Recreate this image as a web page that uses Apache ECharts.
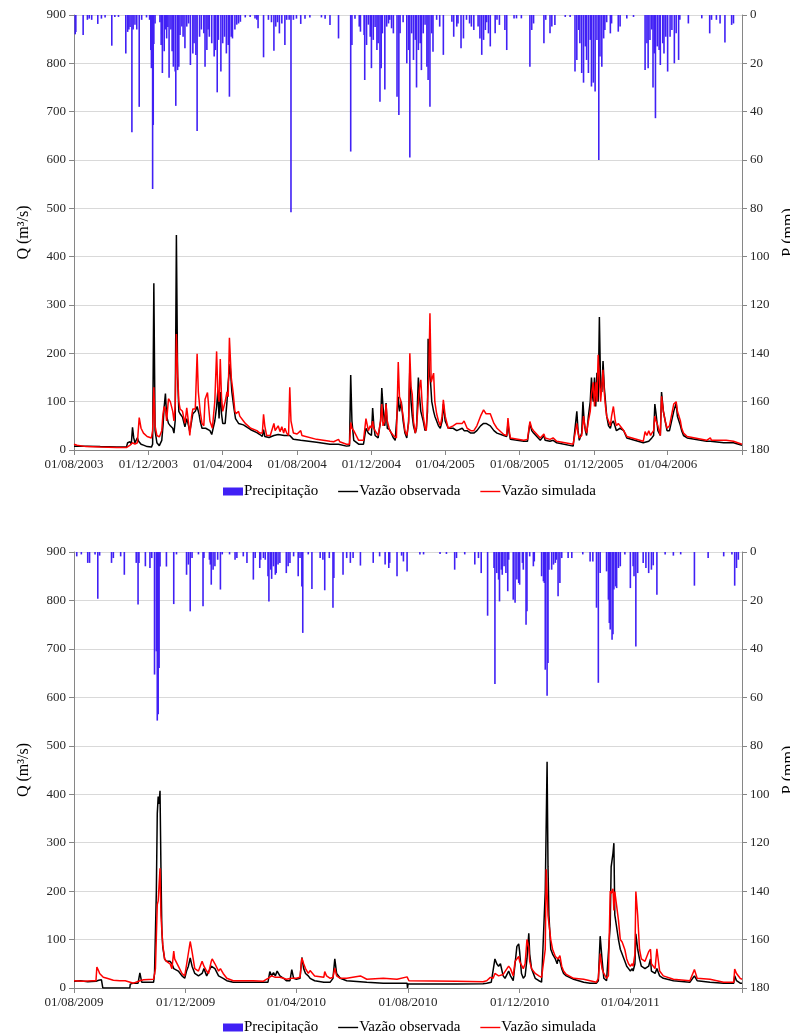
<!DOCTYPE html>
<html><head><meta charset="utf-8">
<script src="https://cdn.jsdelivr.net/npm/echarts@6/dist/echarts.min.js"></script>
<style>html,body{margin:0;padding:0;background:#fff}#c{width:790px;height:1033px}</style>
</head><body><div id="c"></div>
<script>
// ---------- tick labels ----------
const tickLabels1 = ['01/08/2003','01/12/2003','01/04/2004','01/08/2004','01/12/2004','01/04/2005','01/08/2005','01/12/2005','01/04/2006'];
const axisEnd1 = '01/08/2006';
const tickLabels2 = ['01/08/2009','01/12/2009','01/04/2010','01/08/2010','01/12/2010','01/04/2011'];
const axisEnd2 = '01/08/2011';

// ---------- panel 1 (days since 01/08/2003, value) ----------
const rain1 = [[2,8],[3,7],[15,8.3],[22,2],[25,1.5],[29,2],[39,3.7],[45,1.5],[51,1],[62,12.7],[67,0.8],[73,0.8],[85,15.9],[88,7],[90,6],[92,5],[95,48.5],[97,6],[100,4],[103,6],[107,38],[111,2],[119,1],[124,2],[126,14.5],[127,22],[129,72],[130,45.5],[131,12],[133,3.5],[141,3],[143,12.4],[144,8],[145,24],[148,15],[150,6],[152,9.7],[154,5],[156,26],[159,6],[161,15],[163,21.4],[166,23.4],[167,37.6],[170,22.8],[172,21.4],[174,8.3],[177,4.8],[179,9],[182,13.8],[185,4.8],[188,3.5],[191,20.7],[195,15.9],[197,11.7],[200,16.5],[202,48],[206,9],[209,6],[213,7.6],[215,21.4],[218,14.5],[220,6],[222,9],[226,11.7],[230,17.2],[232,14.5],[235,32],[237,10.3],[241,23.4],[244,11.7],[247,9],[250,15.9],[253,12.4],[255,33.8],[258,9],[260,9.7],[264,6],[267,4],[270,3.5],[273,2.8],[281,1],[289,0.8],[297,1.4],[300,2],[302,5.5],[311,17.5],[319,2],[324,3],[328,14.8],[331,4.8],[334,3],[337,7.6],[341,3.5],[346,12.4],[349,2],[353,2],[356,81.6],[360,2],[365,1.5],[372,3.7],[379,1.5],[387,1],[406,1],[412,1.5],[420,4.1],[434,9.7],[454,56.5],[456,12.4],[461,1.5],[468,4.8],[470,6.9],[476,8.3],[477,26.9],[480,12.4],[483,4],[486,9],[488,22],[491,10.3],[494,5],[497,14.5],[499,11.7],[502,35.9],[504,22],[506,7.6],[510,30.8],[513,4.8],[516,3.5],[518,2],[521,5.5],[524,7.6],[530,33.8],[533,41.4],[535,7.6],[540,3],[546,20],[549,14.5],[551,59],[554,7.6],[557,18.6],[560,10.3],[562,30],[565,14.5],[568,11.7],[570,22.8],[573,7.6],[576,4],[579,21.4],[581,26.9],[584,38],[587,7.6],[589,15.2],[595,2],[600,4.8],[606,16.5],[620,2.8],[623,9],[628,4.8],[630,3.5],[635,13.8],[639,9.7],[644,2],[649,3.5],[652,4.8],[656,6.2],[663,4.8],[666,9.7],[669,16.5],[672,10.3],[675,6.2],[677,3],[680,7.6],[683,13],[691,7.6],[694,2],[698,4.1],[707,6.2],[710,14.5],[722,1.4],[726,1.4],[734,1.4],[748,21.4],[751,6.2],[754,3.5],[771,11.7],[774,2],[781,7.6],[784,4.8],[789,4.1],[806,0.8],[814,0.8],[822,23.4],[825,18.6],[828,6.2],[830,11.7],[833,24],[836,28],[839,13],[841,18.6],[844,24],[847,10.3],[849,29.6],[852,28],[855,31.7],[858,10.3],[861,60],[863,17.2],[866,21.4],[869,9.7],[871,6.2],[874,3],[880,7.6],[882,3.5],[893,6.9],[896,4.8],[907,1.4],[918,0.8],[937,22.8],[940,11.7],[942,22],[945,10.3],[948,6],[950,30],[952,15.9],[954,42.7],[957,13],[960,14.5],[962,20.7],[966,11.7],[968,15.9],[971,9],[974,23.4],[978,9],[981,6.2],[985,20],[988,7.6],[992,18.6],[994,2],[1008,3.5],[1030,1.4],[1043,7.6],[1046,2],[1054,2],[1060,3.5],[1068,11.4],[1079,4.1],[1082,3.5]];

const obs1 = [[0,8],[20,8],[43,7],[70,6],[86,6],[88,15],[92,17],[94,12],[96,47],[98,25],[100,15],[104,25],[106,18],[110,12],[114,10],[120,7],[127,6],[129,12],[131,345],[133,40],[136,15],[140,9],[144,20],[146,50],[148,90],[150,117],[152,70],[155,55],[158,50],[162,45],[164,35],[166,60],[168,445],[170,150],[172,80],[174,75],[178,68],[182,48],[185,65],[188,50],[190,38],[193,60],[195,75],[199,80],[202,90],[205,75],[207,60],[210,45],[213,45],[216,45],[219,48],[223,40],[226,32],[228,35],[231,60],[234,90],[236,123],[238,65],[240,120],[242,75],[244,55],[248,55],[251,100],[253,140],[256,178],[259,120],[262,90],[265,65],[270,55],[273,55],[278,52],[281,48],[290,42],[300,36],[305,32],[309,28],[311,42],[313,28],[320,26],[328,30],[335,32],[345,30],[354,30],[360,22],[372,20],[398,16],[420,12],[434,12],[447,8],[452,9],[454,155],[456,60],[459,20],[467,12],[475,12],[479,45],[483,35],[488,30],[490,87],[492,50],[494,30],[499,25],[503,60],[505,128],[507,90],[510,50],[512,97],[514,45],[518,42],[524,25],[527,20],[532,110],[534,80],[537,100],[540,60],[543,35],[546,25],[549,60],[551,170],[553,100],[555,70],[557,50],[560,35],[562,45],[565,150],[567,110],[569,80],[571,80],[573,60],[576,40],[578,45],[580,80],[581,230],[583,160],[585,140],[587,100],[590,80],[592,70],[595,60],[598,50],[601,45],[604,60],[606,95],[609,60],[614,45],[622,45],[628,40],[637,45],[640,40],[645,40],[651,35],[656,35],[661,40],[667,50],[672,55],[676,55],[683,50],[689,40],[694,35],[705,30],[710,28],[712,55],[714,35],[716,22],[738,18],[744,18],[748,55],[751,40],[754,35],[765,20],[771,30],[773,20],[781,18],[786,20],[792,15],[819,8],[822,10],[825,80],[827,40],[829,20],[833,35],[835,100],[837,60],[839,40],[841,30],[844,70],[847,100],[849,150],[851,110],[852,100],[854,150],[856,90],[858,160],[860,100],[862,275],[864,130],[866,120],[868,184],[870,130],[872,100],[874,70],[877,50],[880,45],[882,55],[885,60],[890,40],[896,45],[902,40],[907,25],[934,15],[937,18],[943,18],[948,25],[951,30],[953,95],[955,75],[958,40],[962,30],[964,120],[967,80],[970,60],[973,40],[977,40],[984,80],[988,97],[990,70],[995,50],[997,40],[1000,30],[1006,25],[1038,18],[1044,18],[1066,15],[1082,15],[1096,10]];

const sim1 = [[0,12],[5,10],[20,7],[43,6],[70,5],[86,5],[92,10],[96,15],[100,12],[104,15],[107,67],[110,45],[114,35],[120,28],[127,25],[129,40],[131,130],[133,50],[136,30],[140,27],[144,40],[146,75],[148,90],[150,85],[152,60],[155,106],[158,100],[162,80],[164,60],[166,90],[168,240],[170,160],[172,100],[174,85],[178,80],[182,55],[185,87],[188,55],[190,30],[193,70],[195,85],[199,85],[202,199],[204,120],[207,80],[210,55],[213,50],[215,105],[219,119],[223,60],[227,45],[231,100],[234,204],[236,120],[238,100],[240,188],[242,110],[244,80],[248,100],[251,120],[253,110],[255,232],[258,150],[261,120],[264,80],[266,75],[270,80],[272,70],[278,60],[281,55],[290,45],[300,40],[305,35],[309,35],[311,74],[313,50],[316,30],[322,30],[328,55],[330,40],[333,40],[335,50],[338,38],[341,48],[344,35],[346,45],[349,35],[352,30],[354,130],[356,60],[360,35],[366,33],[372,40],[374,30],[398,22],[420,18],[422,20],[426,17],[434,22],[436,17],[447,12],[452,12],[454,57],[456,45],[459,40],[467,20],[475,20],[479,65],[483,40],[486,50],[488,45],[490,60],[492,45],[494,40],[499,30],[503,60],[505,95],[507,50],[510,60],[512,95],[514,60],[518,40],[524,30],[529,25],[532,182],[534,110],[536,103],[540,70],[543,40],[546,30],[549,55],[551,200],[553,130],[555,115],[557,60],[560,35],[562,50],[565,100],[567,130],[569,145],[571,100],[573,70],[576,45],[578,40],[580,100],[582,150],[584,283],[586,140],[588,150],[590,159],[592,100],[595,75],[598,60],[601,50],[604,70],[606,104],[609,70],[614,45],[622,50],[628,55],[637,55],[640,60],[645,45],[651,40],[656,40],[661,50],[667,70],[672,83],[676,75],[683,75],[689,55],[694,45],[705,32],[710,30],[712,66],[714,40],[716,25],[738,20],[744,22],[748,59],[751,45],[754,40],[765,25],[771,33],[773,25],[781,22],[786,25],[792,18],[819,12],[822,15],[825,55],[827,35],[829,25],[833,30],[836,70],[838,50],[841,35],[844,60],[847,80],[849,115],[852,140],[854,90],[856,140],[858,100],[860,197],[862,150],[864,100],[866,130],[868,166],[870,120],[872,90],[874,70],[877,60],[880,50],[882,70],[885,90],[888,60],[890,50],[893,55],[896,59],[899,45],[902,40],[907,28],[934,18],[937,38],[940,30],[943,40],[946,30],[948,35],[951,40],[953,70],[955,60],[958,50],[962,30],[964,111],[967,80],[970,60],[973,45],[977,50],[984,95],[988,100],[990,80],[995,60],[997,45],[1000,35],[1006,28],[1038,20],[1044,25],[1046,20],[1066,20],[1068,22],[1070,20],[1082,18],[1096,12]];

// ---------- panel 2 (days since 01/08/2009, value) ----------
const rain2 = [[3,1.8],[8,1],[15,4.5],[17,4.5],[23,1],[26,19.3],[28,1.5],[41,4.5],[43,2.5],[51,1.8],[55,9.4],[68,4.5],[70,21.7],[71,4.5],[78,5.9],[83,6.6],[85,2.5],[88,50.6],[90,41],[91,69.6],[92,67],[93,47.9],[94,6],[101,6],[109,21.5],[112,1],[123,9.4],[125,5.2],[127,24.5],[129,2.5],[136,1],[141,22.4],[142,2.5],[148,3.2],[149,5.2],[150,13.5],[152,7.3],[154,5.9],[157,3.2],[160,15.5],[162,1],[170,1],[176,3.2],[178,2.5],[185,1.8],[189,4.5],[196,11.4],[198,2.5],[203,6.6],[204,3.2],[207,2.5],[209,3.2],[212,10],[213,20.4],[215,7.3],[216,11.1],[218,5.9],[220,9.4],[221,8.7],[223,5.2],[225,4.5],[232,8.7],[234,5.9],[236,4.5],[240,1.8],[245,10],[247,2.5],[249,14.2],[250,33.4],[256,1],[260,15.3],[269,2.5],[272,3.2],[274,15.8],[279,2.5],[283,23],[284,10.7],[294,9.4],[298,2.5],[302,4.5],[305,2.5],[313,5.6],[327,4.5],[334,1.8],[340,5.2],[344,6.6],[345,4.5],[353,10],[358,1.5],[360,3.9],[364,8],[378,1],[382,1],[400,0.8],[407,0.8],[416,7.3],[418,2.5],[427,1],[438,5.2],[442,2.5],[445,8.7],[452,26.3],[459,6.6],[460,54.5],[462,8.7],[464,11.4],[465,20.4],[467,7.3],[468,9.4],[470,5.9],[472,8.7],[474,16.2],[475,3.2],[480,19.7],[482,21],[484,11.4],[486,12.8],[487,13.5],[490,4.5],[491,7.3],[494,30],[495,24.5],[498,1.8],[502,5.9],[503,3.9],[511,10],[513,12.1],[514,12.8],[515,48.6],[517,59.3],[518,45.8],[519,7.3],[522,7.3],[524,5.2],[526,4.5],[527,3.2],[529,18.3],[531,12.8],[533,2.5],[540,2.5],[544,2.5],[556,1],[564,3.9],[567,3.9],[571,23],[573,54],[575,8.7],[582,8],[584,19.7],[585,29.3],[586,32],[588,36.2],[589,34],[590,15.5],[592,14.2],[593,14.9],[595,6.6],[597,5.9],[602,1],[608,14.9],[611,5.9],[612,10],[614,39],[616,8.7],[622,4.5],[625,6.6],[628,8.7],[631,7.3],[633,5.5],[637,17.6],[646,1],[655,1.5],[663,1],[678,13.9],[693,2.5],[710,1.8],[719,1],[722,13.9],[724,6.6],[726,3.2]];

const obs2 = [[0,14],[7,15],[15,13],[24,14],[27,16],[30,17],[31,15],[31.5,0],[61,0],[61.5,8],[65,10],[70,10],[72,31],[74,12],[76,12],[87,12],[88,30],[90,200],[91,360],[92,395],[93,380],[94,407],[95,250],[96,120],[97,85],[99,60],[101,55],[105,55],[107,50],[109,40],[110,40],[114,35],[118,25],[121,20],[123,35],[125,45],[127,62],[129,45],[132,30],[136,25],[140,30],[142,40],[145,25],[147,28],[150,45],[151,48],[154,40],[158,25],[160,22],[163,20],[167,15],[174,12],[196,12],[207,12],[212,12],[214,34],[216,25],[218,32],[220,25],[222,35],[225,25],[229,20],[232,15],[236,15],[238,38],[240,20],[243,18],[247,20],[249,63],[251,40],[253,30],[256,25],[258,20],[263,15],[273,12],[280,12],[283,20],[285,60],[287,30],[291,20],[298,15],[320,12],[338,10],[353,10],[364,10],[364.5,0],[365,8],[367,8],[418,8],[447,9],[451,10],[456,12],[458,15],[460,60],[462,50],[464,45],[466,50],[469,25],[471,20],[475,35],[477,25],[480,15],[482,50],[484,86],[486,91],[487,75],[489,30],[491,20],[493,25],[495,60],[497,113],[498,70],[500,40],[504,20],[508,15],[511,12],[513,15],[515,200],[517,467],[518,250],[519,150],[521,80],[523,70],[526,60],[528,50],[529,60],[531,55],[533,40],[535,30],[538,25],[546,18],[557,12],[564,10],[571,10],[573,15],[575,107],[577,60],[579,20],[582,15],[584,15],[586,130],[587,250],[589,278],[590,299],[591,151],[593,150],[595,100],[597,80],[599,70],[600,65],[602,55],[604,45],[606,40],[608,35],[610,40],[611,35],[613,50],[614,112],[616,80],[618,60],[620,45],[624,40],[628,45],[630,60],[631,35],[635,30],[637,40],[639,30],[640,25],[644,20],[655,15],[673,12],[678,25],[681,15],[695,12],[710,10],[721,10],[722,25],[724,15],[728,10],[730,10]];

const sim2 = [[0,15],[10,14],[20,15],[24,15],[25,43],[27,35],[28,30],[32,22],[36,20],[43,16],[50,15],[53,15],[54,18],[56,15],[58,12],[65,10],[72,15],[76,17],[87,18],[89,40],[91,172],[92,180],[94,247],[95,150],[97,89],[99,60],[101,55],[105,50],[107,40],[109,76],[110,60],[114,45],[118,30],[121,25],[123,48],[125,50],[127,96],[129,75],[132,40],[136,35],[140,55],[142,45],[145,35],[147,30],[150,55],[151,60],[154,50],[158,35],[160,40],[163,30],[167,20],[174,15],[196,15],[207,14],[212,20],[214,22],[216,25],[220,22],[222,25],[225,22],[229,20],[232,18],[238,20],[240,22],[243,20],[247,22],[249,62],[251,50],[253,40],[256,30],[258,36],[263,25],[273,22],[274,34],[276,25],[280,20],[283,22],[285,41],[287,25],[291,20],[298,20],[313,25],[320,18],[338,20],[353,18],[364,23],[366,15],[367,12],[418,14],[420,12],[447,13],[451,15],[455,22],[458,20],[460,30],[462,28],[464,25],[469,28],[471,25],[475,45],[477,40],[480,25],[482,55],[484,58],[486,65],[487,55],[489,55],[491,40],[493,50],[495,100],[497,85],[498,55],[500,40],[504,30],[508,25],[511,22],[513,20],[515,80],[516,245],[518,150],[521,100],[523,80],[526,65],[528,65],[529,60],[531,67],[533,45],[535,35],[538,28],[546,20],[557,18],[564,15],[571,12],[573,20],[575,71],[577,40],[579,30],[582,20],[584,25],[586,200],[587,195],[589,205],[590,160],[591,199],[593,200],[595,140],[597,100],[599,95],[600,90],[602,79],[604,60],[606,50],[608,45],[610,50],[611,45],[613,70],[614,199],[616,150],[618,80],[620,60],[624,55],[628,75],[630,80],[631,50],[635,40],[637,81],[639,50],[640,35],[644,25],[655,18],[673,15],[678,38],[681,20],[695,18],[697,15],[710,12],[721,12],[722,39],[724,30],[728,20],[730,18]];

// ---------- helpers ----------
const FONT = '"Liberation Serif","Times New Roman",serif';
function parseDMY(s){const p=s.split('/').map(Number);return Date.UTC(p[2],p[1]-1,p[0]);}
function daysFrom(start,s){return Math.round((parseDMY(s)-parseDMY(start))/864e5);}
function buildX(labels,end,gridIndex){
  const lv = labels.map(s=>daysFrom(labels[0],s));
  const map = {}; lv.forEach((v,i)=>map[v]=labels[i]);
  const endV = daysFrom(labels[0],end);
  return {
    type:'value', gridIndex, min:0, max:endV,
    axisLine:{show:true,onZero:false,lineStyle:{color:'#868686',width:1}},
    axisTick:{show:true,length:5,customValues:lv.concat([endV]),lineStyle:{color:'#868686'}},
    axisLabel:{show:true,customValues:lv,formatter:v=>map[Math.round(v)]||'',fontFamily:FONT,fontSize:13,color:'#262626',margin:8,showMaxLabel:true,showMinLabel:true},
    splitLine:{show:false}
  };
}
function yLeft(gridIndex){
  return {type:'value',gridIndex,position:'left',min:0,max:900,interval:100,
    name:'Q (m³/s)',nameLocation:'middle',nameRotate:90,nameGap:42,
    nameTextStyle:{fontFamily:FONT,fontSize:16,color:'#000'},
    axisLine:{show:true,lineStyle:{color:'#868686'}},
    axisTick:{show:true,length:5,lineStyle:{color:'#868686'}},
    axisLabel:{fontFamily:FONT,fontSize:13,color:'#262626',margin:8},
    splitLine:{show:true,lineStyle:{color:'#D9D9D9',width:1}}};
}
function yRight(gridIndex){
  return {type:'value',gridIndex,position:'right',min:0,max:180,interval:20,inverse:true,
    name:'P (mm)',nameLocation:'middle',nameRotate:90,nameGap:38,
    nameTextStyle:{fontFamily:FONT,fontSize:16,color:'#000'},
    axisLine:{show:true,lineStyle:{color:'#868686'}},
    axisTick:{show:true,length:5,lineStyle:{color:'#868686'}},
    axisLabel:{fontFamily:FONT,fontSize:13,color:'#262626',margin:8},
    splitLine:{show:false}};
}
const BLUE = '#4020F5';
const LINE_ICON = 'path://M0,0H20V1.4H0Z';
function legend(top){
  return {top,left:218,itemGap:20,itemWidth:20,itemHeight:8,
    textStyle:{fontFamily:FONT,fontSize:15,color:'#000',padding:[0,0,0,-4]},
    data:[{name:'Precipitação',icon:'rect'},{name:'Vazão observada',icon:LINE_ICON},{name:'Vazão simulada',icon:LINE_ICON}]};
}
function seriesFor(idx,rain,obs,sim){
  return [
    {name:'Precipitação',type:'bar',xAxisIndex:idx,yAxisIndex:idx*2+1,data:rain,barWidth:1.6,
      itemStyle:{color:BLUE}},
    {name:'Vazão observada',type:'line',xAxisIndex:idx,yAxisIndex:idx*2,data:obs,symbol:'none',showSymbol:false,
      lineStyle:{color:'#000',width:1.5},itemStyle:{color:'#000'}},
    {name:'Vazão simulada',type:'line',xAxisIndex:idx,yAxisIndex:idx*2,data:sim,symbol:'none',showSymbol:false,
      lineStyle:{color:'#FF0000',width:1.5},itemStyle:{color:'#FF0000'}}
  ];
}
const chart = echarts.init(document.getElementById('c'),null,{renderer:'canvas'});
chart.setOption({
  animation:false,
  backgroundColor:'#fff',
  grid:[
    {left:74,top:15,width:668,height:435,containLabel:false,outerBoundsMode:'none'},
    {left:74,top:552,width:668,height:436,containLabel:false,outerBoundsMode:'none'}
  ],
  legend:[legend(479),legend(1015)],
  xAxis:[buildX(tickLabels1,axisEnd1,0),buildX(tickLabels2,axisEnd2,1)],
  yAxis:[yLeft(0),yRight(0),yLeft(1),yRight(1)],
  series:[].concat(seriesFor(0,rain1,obs1,sim1),seriesFor(1,rain2,obs2,sim2))
});
</script>
</body></html>
